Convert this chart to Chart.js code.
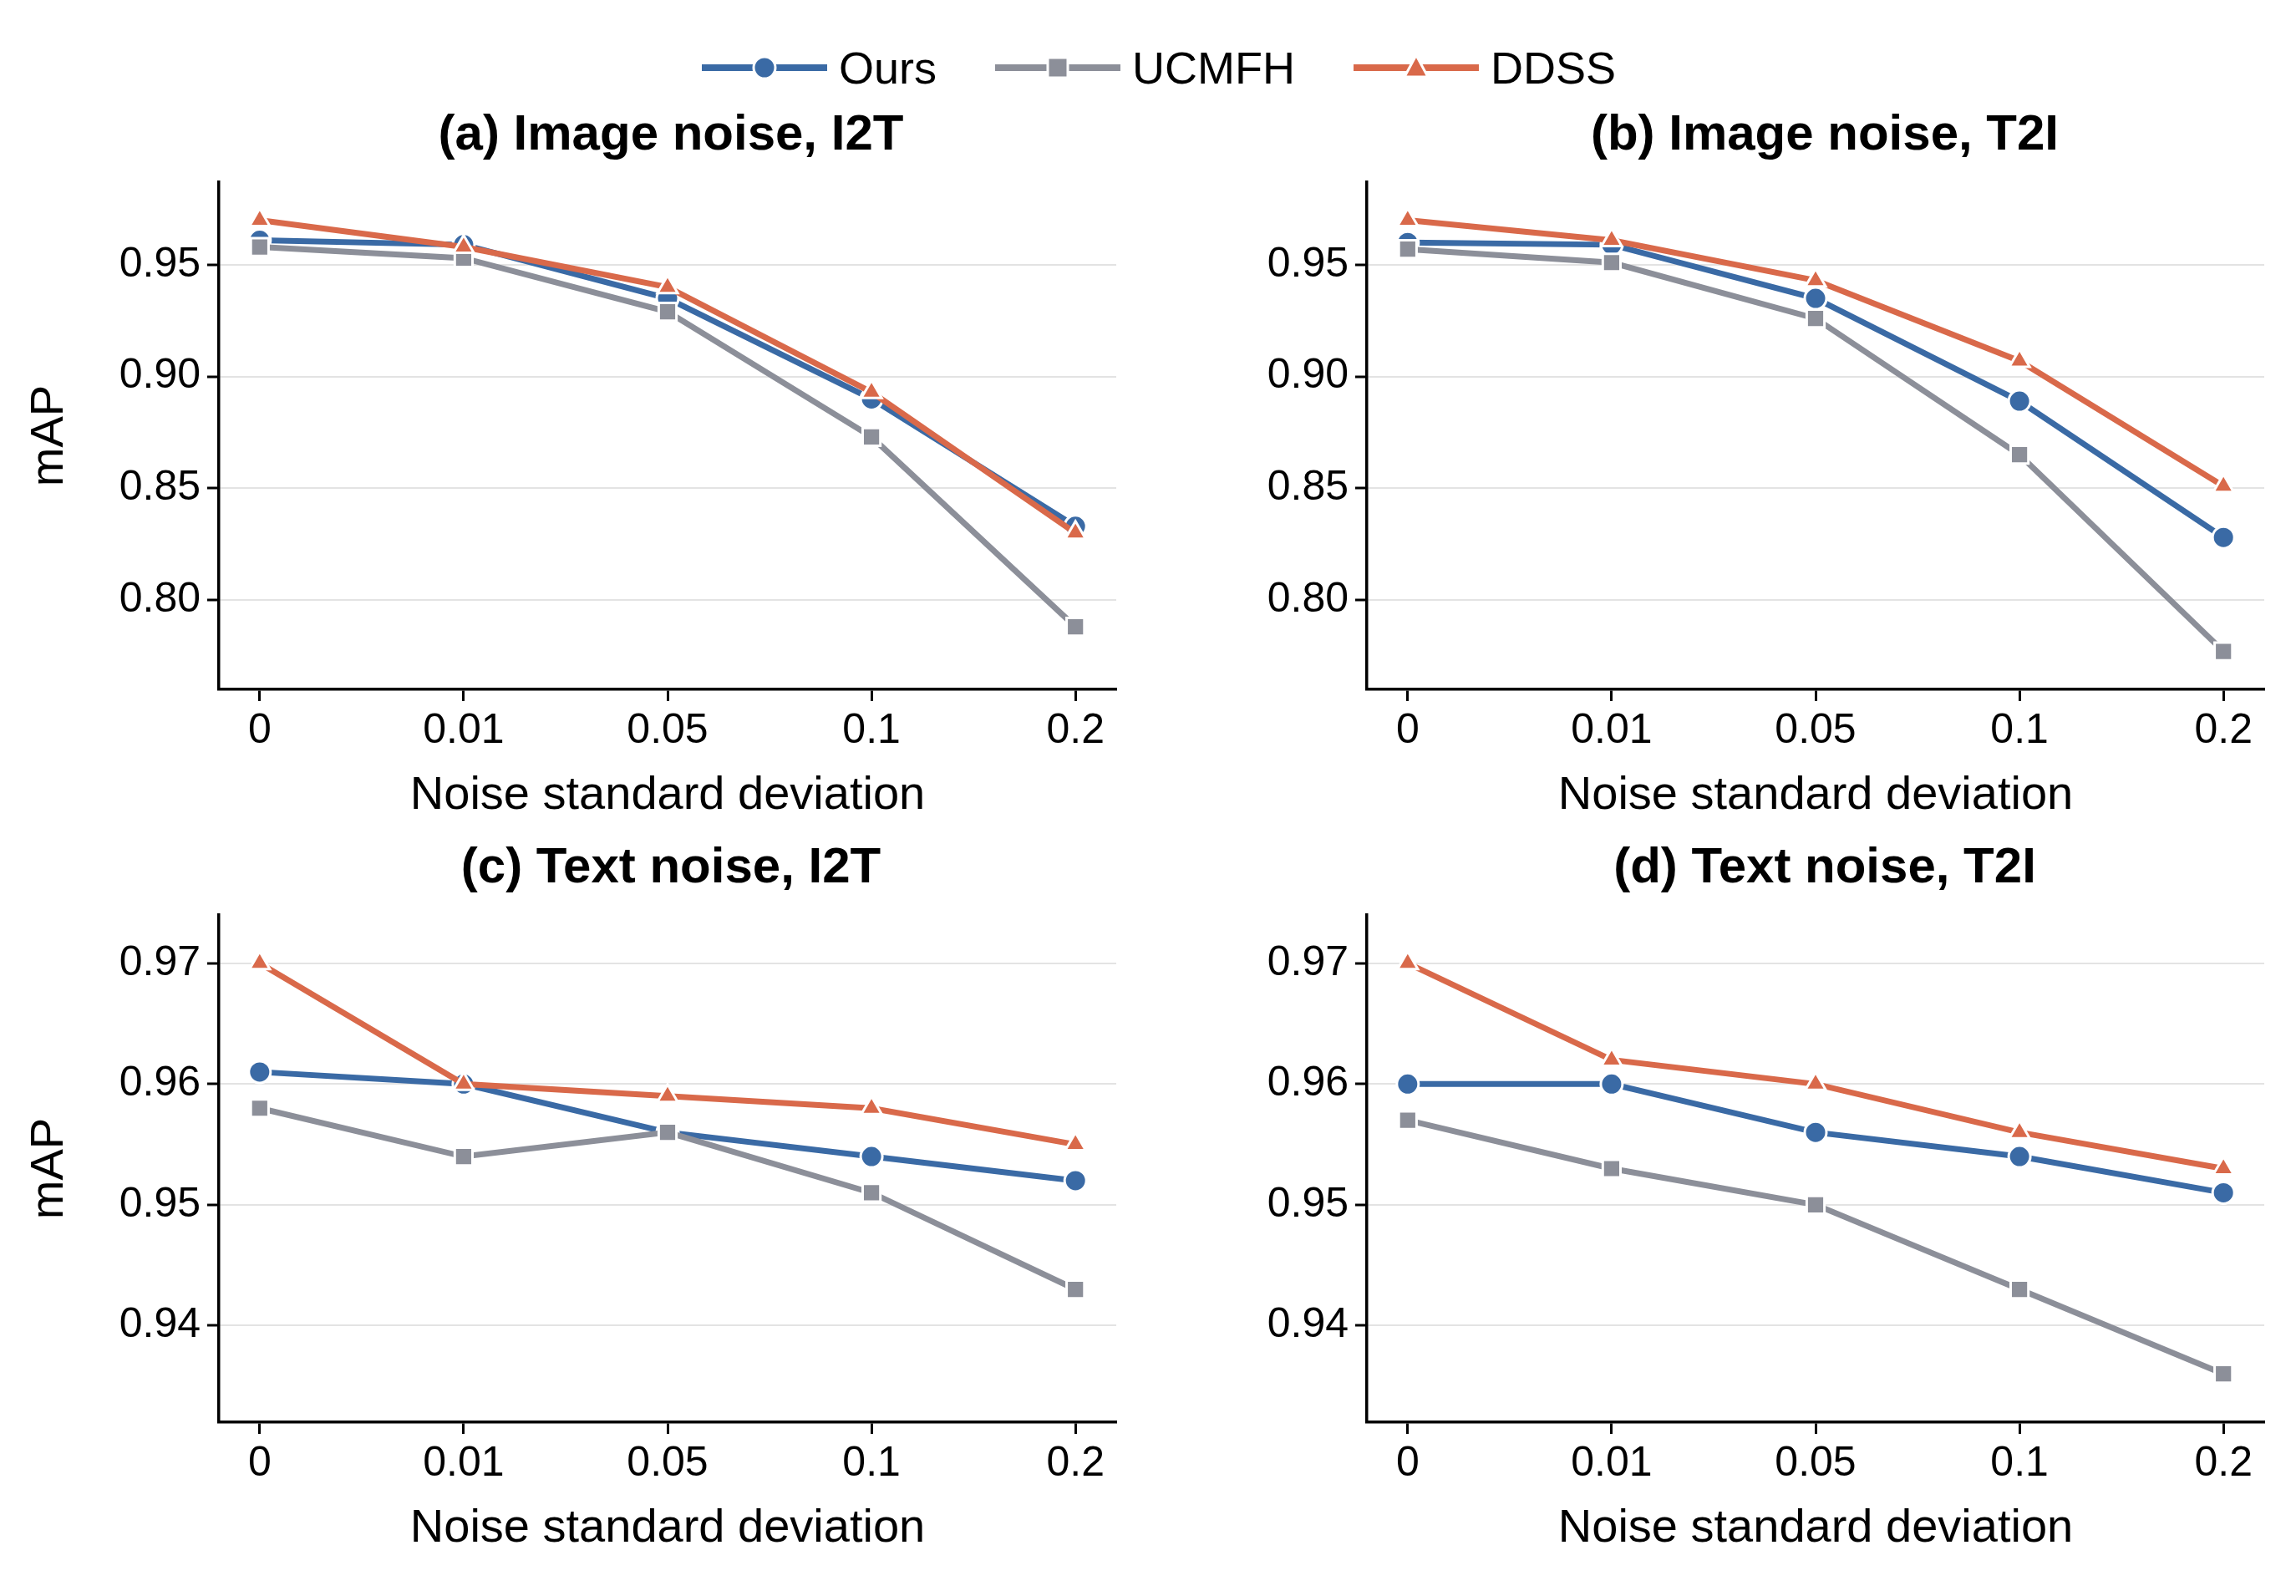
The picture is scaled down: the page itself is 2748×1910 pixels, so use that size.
<!DOCTYPE html>
<html><head><meta charset="utf-8">
<script src="https://cdn.jsdelivr.net/npm/chart.js@4.4.0/dist/chart.umd.min.js"></script>
<style>
body{margin:0;width:2748px;height:1910px;background:#fff;position:relative;font-family:Arial,"Liberation Sans",sans-serif;overflow:hidden}
.c{position:absolute}
.t{position:absolute;font-weight:bold;font-size:60px;transform:translateX(-50%);white-space:nowrap}
#legend{position:absolute;left:1387px;top:50px;transform:translateX(-50%);display:flex;gap:70px;font-size:54px;align-items:center}
#legend span{display:flex;align-items:center;gap:14px}
</style></head><body>
<div id="legend">
<span><svg width="150" height="40"><line x1="0" y1="20" x2="150" y2="20" stroke="#3a6aa5" stroke-width="8"/><circle cx="75" cy="20" r="13" fill="#3a6aa5" stroke="#fff" stroke-width="3"/></svg>Ours</span>
<span><svg width="150" height="40"><line x1="0" y1="20" x2="150" y2="20" stroke="#8c8f99" stroke-width="8"/><rect x="63" y="8" width="24" height="24" fill="#8c8f99" stroke="#fff" stroke-width="3"/></svg>UCMFH</span>
<span><svg width="150" height="40"><line x1="0" y1="20" x2="150" y2="20" stroke="#d9694a" stroke-width="8"/><polygon points="75,5 89,31 61,31" fill="#d9694a" stroke="#fff" stroke-width="3"/></svg>DDSS</span>
</div>
<div class="t" style="left:803px;top:124px">(a) Image noise, I2T</div>
<div class="t" style="left:2184px;top:124px">(b) Image noise, T2I</div>
<div class="t" style="left:803px;top:1001px">(c) Text noise, I2T</div>
<div class="t" style="left:2184px;top:1001px">(d) Text noise, T2I</div>
<div class="c" style="left:22px;top:180px;width:1332px;height:810px"><canvas id="a"></canvas></div>
<div class="c" style="left:1396px;top:180px;width:1332px;height:810px"><canvas id="b"></canvas></div>
<div class="c" style="left:22px;top:1057px;width:1332px;height:810px"><canvas id="c"></canvas></div>
<div class="c" style="left:1396px;top:1057px;width:1332px;height:810px"><canvas id="d"></canvas></div>
<script>
const noiseLevels = ['0', '0.01', '0.05', '0.1', '0.2'];
const seriesNames = ['Ours', 'UCMFH', 'DDSS'];
const oursA = [0.961, 0.959, 0.935, 0.890, 0.833];
const ucmfhA = [0.958, 0.953, 0.929, 0.873, 0.788];
const ddssA = [0.970, 0.958, 0.940, 0.893, 0.830];
const oursB = [0.960, 0.959, 0.935, 0.889, 0.828];
const ucmfhB = [0.957, 0.951, 0.926, 0.865, 0.777];
const ddssB = [0.970, 0.961, 0.943, 0.907, 0.851];
const oursC = [0.961, 0.960, 0.956, 0.954, 0.952];
const ucmfhC = [0.958, 0.954, 0.956, 0.951, 0.943];
const ddssC = [0.970, 0.960, 0.959, 0.958, 0.955];
const oursD = [0.960, 0.960, 0.956, 0.954, 0.951];
const ucmfhD = [0.957, 0.953, 0.950, 0.943, 0.936];
const ddssD = [0.970, 0.962, 0.960, 0.956, 0.953];
const yTicksTop = [0.80, 0.85, 0.90, 0.95];
const yTicksBottom = [0.94, 0.95, 0.96, 0.97];

const colors = ['#3a6aa5', '#8c8f99', '#d9694a'];
const shapes = ['circle', 'rect', 'triangle'];
const radii = [13, 15, 14];

function pts(arr) { return arr.map((v, i) => ({x: i, y: v})); }

function makeChart(id, series, yMin, yMax, yTicks, showTitle) {
  new Chart(document.getElementById(id), {
    type: 'line',
    data: {
      datasets: series.map((s, k) => ({
        label: seriesNames[k],
        data: pts(s),
        borderColor: colors[k],
        backgroundColor: colors[k],
        borderWidth: 7,
        pointStyle: shapes[k],
        pointRadius: radii[k],
        pointBorderColor: '#fff',
        pointBorderWidth: 3,
        tension: 0,
        order: 3 - k
      }))
    },
    options: {
      responsive: true, maintainAspectRatio: false, animation: false,
      layout: {padding: {top: 35, right: 10}},
      plugins: {legend: {display: false}, tooltip: {enabled: false}},
      scales: {
        x: {
          type: 'linear', min: -0.2, max: 4.2,
          afterBuildTicks: ax => { ax.ticks = noiseLevels.map((_, i) => ({value: i})); },
          afterFit: ax => { ax.height = 165; },
          ticks: {callback: v => noiseLevels[v], color: '#000', font: {size: 50}, padding: 6},
          grid: {display: true, color: 'rgba(0,0,0,0)', drawTicks: true, tickLength: 14, tickColor: '#000', tickWidth: 3},
          border: {color: '#000', width: 3.5},
          title: {display: true, text: 'Noise standard deviation', color: '#000', font: {size: 56}, padding: {top: 0}}
        },
        y: {
          min: yMin, max: yMax,
          afterBuildTicks: ax => { ax.ticks = yTicks.map(v => ({value: v})); },
          afterFit: ax => { ax.width = 240; },
          ticks: {callback: v => v.toFixed(2), color: '#000', font: {size: 50}, padding: 8},
          grid: {color: '#e3e3e3', lineWidth: 2, tickColor: '#000', tickLength: 14, tickWidth: 3},
          border: {color: '#000', width: 3.5},
          title: {display: showTitle, text: 'mAP', color: '#000', font: {size: 56}, padding: {bottom: 4}}
        }
      }
    }
  });
}

makeChart('a', [oursA, ucmfhA, ddssA], 0.76, 0.987, yTicksTop, true);
makeChart('b', [oursB, ucmfhB, ddssB], 0.76, 0.987, yTicksTop, false);
makeChart('c', [oursC, ucmfhC, ddssC], 0.932, 0.974, yTicksBottom, true);
makeChart('d', [oursD, ucmfhD, ddssD], 0.932, 0.974, yTicksBottom, false);
</script>
</body></html>
